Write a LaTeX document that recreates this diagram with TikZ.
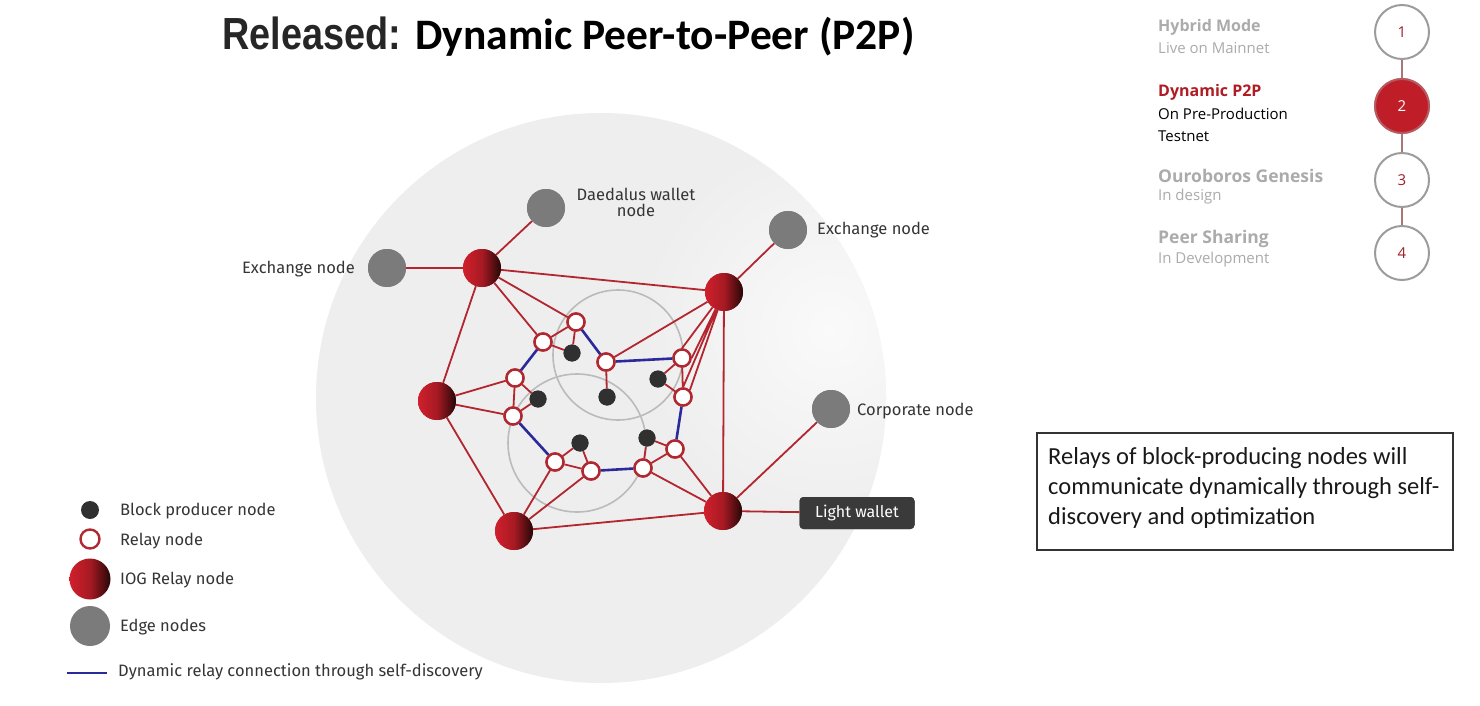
\documentclass[tikz,border=0pt]{standalone}
\usepackage{fontspec}
\usepackage{graphicx}
\setmainfont{Open Sans}
\newfontfamily\labelfont{Fira Sans}
\newfontfamily\calfont{Carlito}
\newfontfamily\arialfont{Liberation Sans}

\definecolor{bgcircle}{HTML}{EEEEEE}
\definecolor{linkred}{HTML}{B3262F}
\definecolor{relayred}{HTML}{B02830}
\definecolor{linkblue}{HTML}{2A2A9A}
\definecolor{iogred}{HTML}{D0202C}
\definecolor{iogdark}{HTML}{260707}
\definecolor{edgegray}{HTML}{7B7B7B}
\definecolor{bpgray}{HTML}{303030}
\definecolor{ringgray}{HTML}{BBBBBB}
\definecolor{labeltext}{HTML}{353535}
\definecolor{stepgray}{HTML}{ABABAB}
\definecolor{stepred}{HTML}{B01C24}
\definecolor{stepring}{HTML}{9C9C9C}
\definecolor{stepnum}{HTML}{A0202A}
\definecolor{steplink}{HTML}{A87878}
\definecolor{tipbox}{HTML}{3A3A3A}

\tikzset{
  iog/.style={circle, inner sep=0pt, minimum size=38pt, left color=iogred, right color=iogdark, middle color=iogred!80!black},
  edgenode/.style={circle, inner sep=0pt, minimum size=38pt, fill=edgegray},
  relay/.style={circle, inner sep=0pt, minimum size=17pt, fill=white, draw=relayred, line width=2.4pt},
  producer/.style={circle, inner sep=0pt, minimum size=17pt, fill=bpgray},
  redlink/.style={draw=linkred, line width=1.8pt},
  bluelink/.style={draw=linkblue, line width=2.6pt},
  lbl/.style={inner sep=0pt, text=labeltext, font=\labelfont\fontsize{16.5}{19}\selectfont},
  tag/.style={fill=tipbox, rounded corners=4pt, text=white, minimum width=115pt, minimum height=32pt, inner sep=0pt,
      font=\labelfont\fontsize{16}{19}\selectfont},
  stepcircle/.style={circle, inner sep=0pt, minimum size=54pt, draw=stepring, line width=2pt, fill=white, text=stepnum, font=\fontsize{15}{17}\selectfont},
  steptitle/.style={anchor=base west, inner sep=0pt, text=stepgray, font=\fontsize{16}{18}\selectfont\bfseries},
  stepsub/.style={anchor=base west, inner sep=0pt, text=stepgray, font=\fontsize{15}{18}\selectfont},
  noteline/.style={anchor=base west, inner sep=0pt, font=\calfont\fontsize{24.5}{30}\selectfont, text=black!90},
}

\begin{document}
\begin{tikzpicture}[x=1pt,y=-1pt]
\useasboundingbox (0,0) rectangle (1480,706);
\fill[white] (0,0) rectangle (1480,706);

% backdrop disc, a little lighter towards the right
\fill[bgcircle] (601,398) circle[radius=285pt];
\begin{scope}
  \clip (601,398) circle[radius=285pt];
  \shade[inner color=white!70!bgcircle, outer color=bgcircle, draw=none] (830,330) circle[radius=190pt];
\end{scope}

% title
\node[anchor=base west, inner sep=0pt, text=black!85] (title1) at (222,49.5)
  {\arialfont\bfseries\fontsize{45}{50}\selectfont\scalebox{0.84}[1]{Released:}};
\node[anchor=base west, inner sep=0pt, text=black] (title2) at (415,49.5)
  {\calfont\bfseries\fontsize{43.5}{48}\selectfont Dynamic Peer-to-Peer (P2P)};

% cluster rings
\draw[ringgray, line width=1.6pt] (618,355) circle[radius=65pt];
\draw[ringgray, line width=1.6pt] (577,443) circle[radius=69pt];

% IOG relay nodes
\node[iog] (A) at (482,268) {};
\node[iog] (B) at (724,292) {};
\node[iog] (C) at (437,401) {};
\node[iog] (D) at (514,531) {};
\node[iog] (E) at (723,511) {};

% edge nodes
\node[edgenode] (daed) at (546,208) {};
\node[edgenode] (exr) at (788,230) {};
\node[edgenode] (exl) at (387,268) {};
\node[edgenode] (corp) at (831,409) {};

% relay nodes
\node[relay] (r1) at (576,322) {};
\node[relay] (r2) at (543,342) {};
\node[relay] (r3) at (606,362) {};
\node[relay] (r4) at (515,378) {};
\node[relay] (r5) at (513,416) {};
\node[relay] (r6) at (682,358) {};
\node[relay] (r7) at (683,397) {};
\node[relay] (r8) at (675,449) {};
\node[relay] (r9) at (643,468) {};
\node[relay] (r10) at (591,471) {};
\node[relay] (r11) at (555,462) {};

% block producers
\node[producer] (b1) at (572,353) {};
\node[producer] (b2) at (607,397) {};
\node[producer] (b3) at (538,399) {};
\node[producer] (b4) at (658,379) {};
\node[producer] (b5) at (580,443) {};
\node[producer] (b6) at (647,438) {};

% light wallet tag
\node[tag] (lw) at (857,513) {Light wallet};

% connections
\path[redlink]
  (A) -- (exl) (A) -- (daed) (A) -- (B) (A) -- (C) (A) -- (r1) (A) -- (r2)
  (B) -- (exr) (B) -- (r3) (B) -- (r6.north) (B) -- (r6.east) (B) -- (r7.north) (B) -- (r7.north east) (B) -- (E)
  (C) -- (r4) (C) -- (r5) (C) -- (D)
  (D) -- (r11) (D) -- (r10) (D) -- (E)
  (E) -- (r9) (E) -- (r8) (E) -- (corp) (E) -- (lw)
  (r1) -- (r2) (r1) -- (b1) (r2) -- (b1)
  (r4) -- (r5) (r4) -- (b3) (r5) -- (b3)
  (r3) -- (b2)
  (r6) -- (r7) (r6) -- (b4) (r7) -- (b4)
  (r8) -- (r9) (r8) -- (b6) (r9) -- (b6)
  (r10) -- (r11) (r11) -- (b5) (r10) -- (b5);
\path[bluelink]
  (r2) -- (r4) (r1) -- (r3) (r3) -- (r6) (r7) -- (r8) (r9) -- (r10) (r11) -- (r5);

% nodes again, on top of the links
\foreach \n/\s in {A/iog,B/iog,C/iog,D/iog,E/iog,daed/edgenode,exr/edgenode,exl/edgenode,corp/edgenode}
  \node[\s] at (\n) {};
\foreach \n in {r1,r2,r3,r4,r5,r6,r7,r8,r9,r10,r11}
  \node[relay] at (\n) {};
\foreach \n in {b1,b2,b3,b4,b5,b6}
  \node[producer] at (\n) {};
\node[tag] at (lw) {Light wallet};

% edge node labels
\node[lbl, anchor=base] (daedl) at (636,200) {Daedalus wallet};
\node[lbl, anchor=base] (daedl2) at (636,216) {node};
\node[lbl, anchor=base west] (exrl) at (817,234) {Exchange node};
\node[lbl, anchor=base east] (exll) at (355,273) {Exchange node};
\node[lbl, anchor=base west] (corpl) at (857,415) {Corporate node};

% legend
\node[producer, minimum size=18pt] (lg1) at (90,510) {};
\node[relay, minimum size=19pt] (lg2) at (90,539) {};
\node[iog, minimum size=41pt] (lg3) at (90,579) {};
\node[edgenode, minimum size=40pt] (lg4) at (90,626) {};
\coordinate (lg5a) at (67,673);
\coordinate (lg5b) at (107,673);
\draw[linkblue, line width=2pt] (lg5a) -- (lg5b);
\node[lbl, anchor=base west] (lt1) at (120,515) {Block producer node};
\node[lbl, anchor=base west] (lt2) at (120,545) {Relay node};
\node[lbl, anchor=base west] (lt3) at (120,584) {IOG Relay node};
\node[lbl, anchor=base west] (lt4) at (120,631) {Edge nodes};
\node[lbl, anchor=base west] (lt5) at (118,676) {Dynamic relay connection through self-discovery};

% roadmap steps
\node[stepcircle] (s1) at (1402,32) {1};
\node[stepcircle] (s2) at (1402,106) {};
\node[stepcircle] (s3) at (1402,180) {3};
\node[stepcircle] (s4) at (1402,253) {4};
\draw[steplink, line width=1.6pt] (s1) -- (s2) (s2) -- (s3) (s3) -- (s4);
\node[stepcircle, fill=iogred!92!black, draw=iogred!55!stepring, text=white] at (s2) {2};

\node[steptitle] (t1) at (1158,32) {Hybrid Mode};
\node[stepsub] (t1s) at (1158,54) {Live on Mainnet};
\node[steptitle, text=stepred] (t2) at (1158,97) {Dynamic P2P};
\node[stepsub, text=black] (t2s) at (1158,120) {On Pre-Production};
\node[stepsub, text=black] (t2t) at (1158,142) {Testnet};
\node[steptitle, font=\fontsize{17.5}{20}\selectfont\bfseries] (t3) at (1158,182) {Ouroboros Genesis};
\node[stepsub] (t3s) at (1158,200) {In design};
\node[steptitle, font=\fontsize{17.5}{20}\selectfont\bfseries] (t4) at (1158,243) {Peer Sharing};
\node[stepsub] (t4s) at (1158,263) {In Development};

% explanatory note
\node[draw=black!80, line width=1.4pt, minimum width=416pt, minimum height=117pt, inner sep=0pt] (note) at (1245,491.5) {};
\node[noteline] (n1) at (1048,464) {Relays of block-producing nodes will};
\node[noteline] (n2) at (1048,494) {communicate dynamically through self-};
\node[noteline] (n3) at (1048,524) {discovery and optimization};
\end{tikzpicture}
\end{document}
